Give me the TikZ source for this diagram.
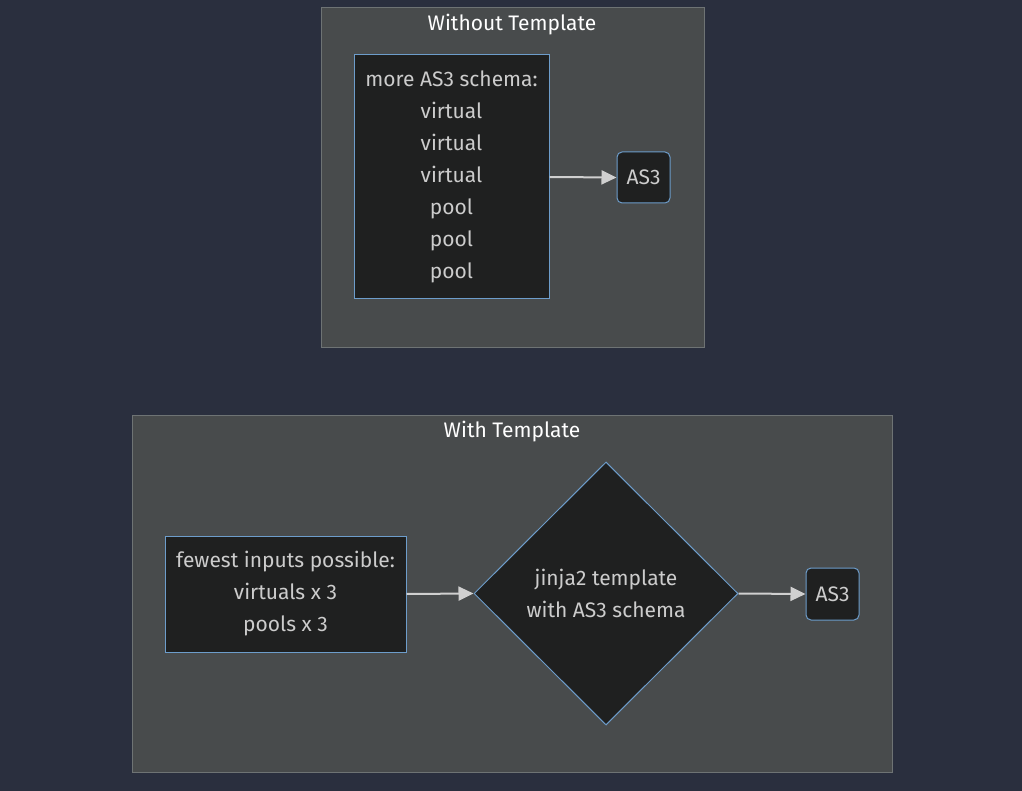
\documentclass[tikz,border=0pt]{standalone}
\usepackage{fontspec}
\setmainfont{Fira Sans}
\usetikzlibrary{arrows.meta,shapes.geometric}
\definecolor{bgc}{HTML}{2A2F3E}
\definecolor{clfill}{HTML}{484B4C}
\definecolor{clborder}{HTML}{6E7374}
\definecolor{ndfill}{HTML}{1F2020}
\definecolor{ndborder}{HTML}{6D9DCB}
\definecolor{txt}{HTML}{CCCCCC}
\definecolor{edge}{HTML}{D0D0D0}
\tikzset{
  cluster/.style={draw=clborder, fill=clfill, line width=1pt},
  cltitle/.style={text=white, font=\fontsize{21}{25}\selectfont},
  box/.style={draw=ndborder, fill=ndfill, line width=1pt, text=txt, font=\fontsize{21}{32}\selectfont, align=center, inner sep=0pt},
  rbox/.style={box, rounded corners=5pt},
  dia/.style={draw=ndborder, fill=ndfill, line width=1pt, text=txt, font=\fontsize{21}{32}\selectfont, align=center, diamond, inner sep=0pt, minimum width=264pt, minimum height=263pt},
  arr/.style={draw=edge, line width=2pt, -{Triangle[length=15pt,width=14pt]}, shorten >=0pt}
}
\begin{document}
\begin{tikzpicture}[x=1pt,y=-1pt]
\fill[bgc] (0,0) rectangle (1022,791);
\useasboundingbox (0,0) rectangle (1022,791);
% top cluster
\draw[cluster] (321,8) rectangle (704,347);
\node[cltitle] (t1) at (512,25) {Without Template};
\node[box, minimum width=195pt, minimum height=244pt] (a) at (451.5,177) {more AS3 schema:\\virtual\\virtual\\virtual\\pool\\pool\\pool};
\node[rbox, minimum width=53pt, minimum height=51pt] (b) at (643.5,177.5) {AS3};
\draw[arr] (a.east) -- (b.west);
% bottom cluster
\draw[cluster] (132,415) rectangle (892,772);
\node[cltitle] (t2) at (512,432) {With Template};
\node[box, minimum width=241pt, minimum height=116pt] (c) at (285.5,594) {fewest inputs possible:\\virtuals x 3\\pools x 3};
\node[dia] (d) at (606,593.5) {jinja2 template\\with AS3 schema};
\node[rbox, minimum width=53pt, minimum height=52pt] (e) at (832.5,594) {AS3};
\draw[arr] (c.east) -- (d.west);
\draw[arr] (d.east) -- (e.west);
\end{tikzpicture}
\end{document}
